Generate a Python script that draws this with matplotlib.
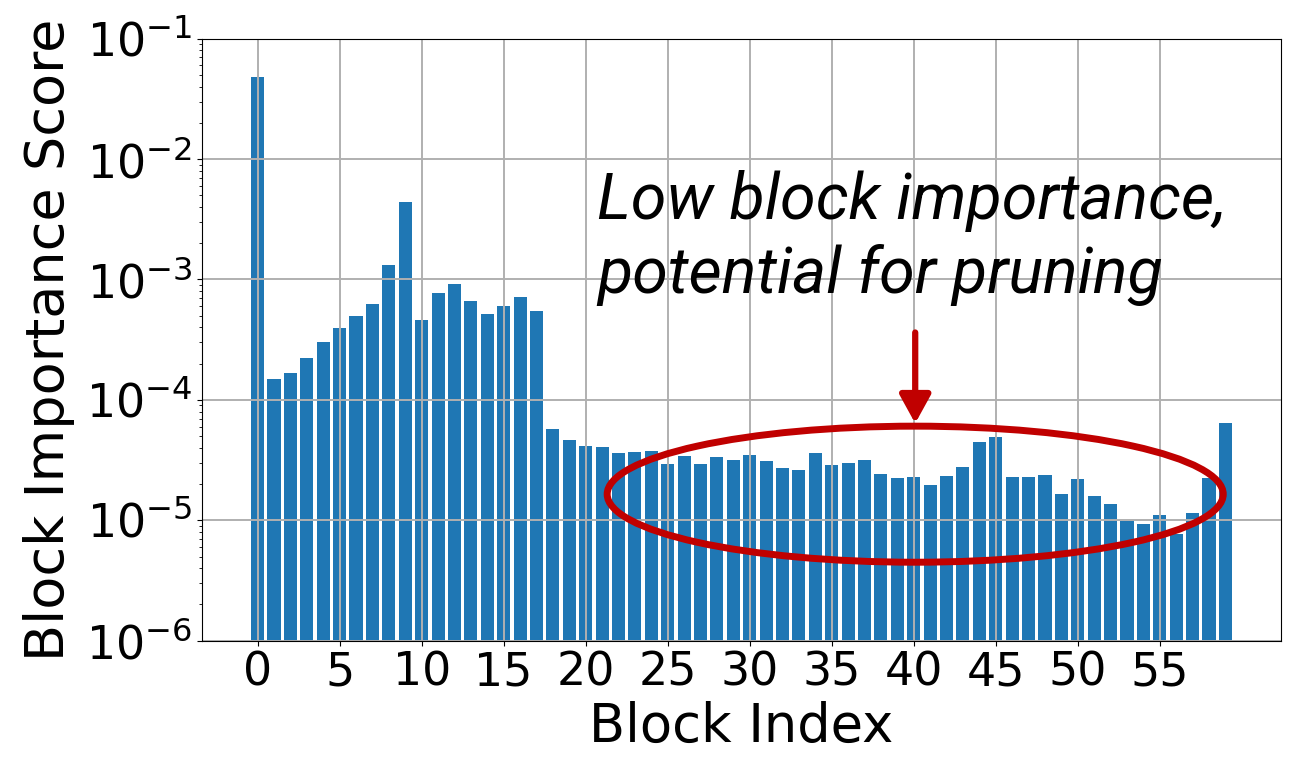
import numpy as np
import matplotlib.pyplot as plt
from matplotlib.patches import Ellipse

# block importance scores (log scale)
block_idx = np.arange(60)
scores = [
    4.8e-2, 1.50e-4, 1.66e-4, 2.25e-4, 3.05e-4, 3.92e-4, 4.99e-4, 6.2e-4, 1.33e-3, 4.41e-3,
    4.59e-4, 7.69e-4, 9.14e-4, 6.64e-4, 5.21e-4, 6.0e-4, 7.16e-4, 5.48e-4, 5.73e-5, 4.61e-5,
    4.14e-5, 4.06e-5, 3.62e-5, 3.70e-5, 3.74e-5, 2.96e-5, 3.44e-5, 2.96e-5, 3.36e-5, 3.17e-5,
    3.51e-5, 3.13e-5, 2.74e-5, 2.60e-5, 3.62e-5, 2.88e-5, 3.00e-5, 3.17e-5, 2.43e-5, 2.24e-5,
    2.31e-5, 1.95e-5, 2.32e-5, 2.78e-5, 4.50e-5, 4.91e-5, 2.30e-5, 2.31e-5, 2.37e-5, 1.67e-5,
    2.22e-5, 1.60e-5, 1.37e-5, 9.87e-6, 9.38e-6, 1.11e-5, 7.76e-6, 1.14e-5, 2.24e-5, 6.37e-5,
]
xticks = np.arange(0, 60, 5)
note_lines = ["Low block importance,", "potential for pruning"]

fig = plt.figure(figsize=(13.01, 7.83), dpi=100)
ax = fig.add_subplot(111)
fig.subplots_adjust(left=0.1553, right=0.9846, top=0.9506, bottom=0.1817)

ax.bar(block_idx, scores, color='#1f77b4')
ax.set_yscale('log')
ax.set_ylim(1e-6, 1e-1)
ax.set_xticks(xticks)
ax.grid(True, color='#b0b0b0', lw=1.4)
ax.tick_params(labelsize=33)
ax.set_xlabel('Block Index', fontsize=38)
ax.set_ylabel('Block Importance Score', fontsize=39, labelpad=8)

red = '#C00000'
ax.add_patch(Ellipse((0.661, 0.2434), 0.571, 0.226, transform=ax.transAxes,
                     fill=False, edgecolor=red, lw=5, zorder=5))
ax.annotate('', xy=(0.661, 0.361), xytext=(0.661, 0.512),
            xycoords='axes fraction', textcoords='axes fraction',
            arrowprops=dict(arrowstyle='-|>,head_length=0.4,head_width=0.22',
                            color=red, lw=4.5, mutation_scale=43,
                            shrinkA=0, shrinkB=0), zorder=5)

fig.text(0.4589, 0.7203, note_lines[0], fontsize=46.5, style='italic',
         family=['Roboto', 'DejaVu Sans'], va='baseline')
fig.text(0.4589, 0.6258, note_lines[1], fontsize=46.5, style='italic',
         family=['Roboto', 'DejaVu Sans'], va='baseline')

fig.savefig('out.png', dpi=100)
